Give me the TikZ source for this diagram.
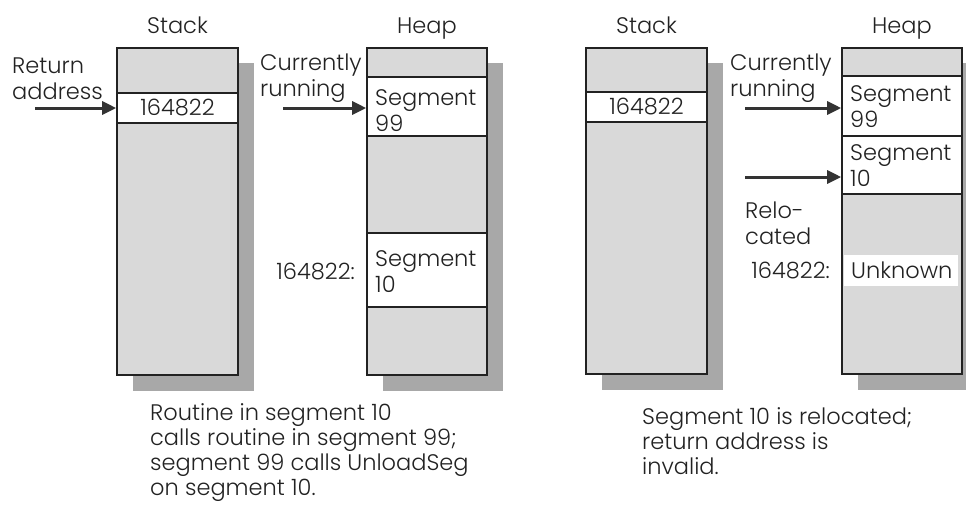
\documentclass[tikz,border=0pt]{standalone}
\usepackage{fontspec}
\setmainfont{Poppins Light}
\usetikzlibrary{arrows.meta,calc}
\definecolor{boxgray}{HTML}{D9D9D9}
\definecolor{shadowgray}{HTML}{A8A8A8}
\definecolor{inkcol}{HTML}{222222}
\definecolor{arrowcol}{HTML}{333333}
\tikzset{
  cell/.style={draw=inkcol, line width=1.6pt, inner sep=0pt, minimum width=#1},
  graycell/.style={cell=#1, fill=boxgray},
  whitecell/.style={cell=#1, fill=white},
  shadowbox/.style={fill=shadowgray},
  lbl/.style={inner sep=0pt, text=inkcol, font=\fontsize{22.5}{26}\selectfont, align=left},
  caption/.style={inner sep=0pt, text=inkcol, font=\fontsize{22.5}{25}\selectfont, align=left},
  ptr/.style={draw=arrowcol, line width=3pt, -{Triangle[length=14pt,width=13pt]}},
}
\begin{document}
\begin{tikzpicture}[x=1pt,y=-1pt]
\useasboundingbox (0,0) rectangle (966,504);
\clip (0,0) rectangle (966,504);

% ---------- left panel ----------
\fill[shadowbox] (133,63) rectangle (254,391);
\fill[shadowbox] (383,63) rectangle (503,391);

\node[graycell=121pt, minimum height=45pt] (ls1) at (177.5,70.5) {};
\node[whitecell=121pt, minimum height=30pt, lbl] (ls2) at (177.5,108) {164822};
\node[graycell=121pt, minimum height=252pt] (ls3) at (177.5,249) {};

\node[graycell=120pt, minimum height=29pt] (lh1) at (427,62.5) {};
\node[whitecell=120pt, minimum height=59pt] (lh2) at (427,106.5) {};
\node[graycell=120pt, minimum height=97pt] (lh3) at (427,184.5) {};
\node[whitecell=120pt, minimum height=74pt] (lh4) at (427,270) {};
\node[graycell=120pt, minimum height=68pt] (lh5) at (427,341) {};

\node[lbl, anchor=base] (lstack) at (177.5,33) {Stack};
\node[lbl, anchor=base] (lheap) at (427,33) {Heap};
\node[lbl, anchor=west] (lret) at (12,78.5) {Return\\address};
\node[lbl, anchor=west] (lcur) at (260,78.5) {Currently\\running};
\node[lbl, anchor=west] (lseg99) at (375,111) {Segment\\99};
\node[lbl, anchor=west] (lseg10) at (375,272) {Segment\\10};
\node[lbl, anchor=east] (laddr) at (355,272) {164822:};

\coordinate (lra) at (35,108);
\coordinate (lca) at (283,108);
\draw[ptr] (lra) -- (lra -| ls2.west);
\draw[ptr] (lca) -- (lca -| lh2.west);

\node[caption, anchor=west] (lcap) at (150,453) {Routine in segment 10\\calls routine in segment 99;\\segment 99 calls UnloadSeg\\on segment 10.};

% ---------- right panel ----------
\fill[shadowbox] (602,63) rectangle (723,390);
\fill[shadowbox] (858,63) rectangle (978,390);

\node[graycell=121pt, minimum height=44pt] (rs1) at (646.5,70) {};
\node[whitecell=121pt, minimum height=30pt, lbl] (rs2) at (646.5,107) {164822};
\node[graycell=121pt, minimum height=252pt] (rs3) at (646.5,248) {};

\node[graycell=120pt, minimum height=28pt] (rh1) at (902,62) {};
\node[whitecell=120pt, minimum height=60pt] (rh2) at (902,106) {};
\node[whitecell=120pt, minimum height=58pt] (rh3) at (902,165) {};
\node[graycell=120pt, minimum height=180pt] (rh4) at (902,284) {};
\fill[white] (843.5,255) rectangle (958,286);

\node[lbl, anchor=base] (rstack) at (646.5,33) {Stack};
\node[lbl, anchor=base] (rheap) at (902,33) {Heap};
\node[lbl, anchor=west] (rcur) at (730,78.5) {Currently\\running};
\node[lbl, anchor=west] (rseg99) at (850,107) {Segment\\99};
\node[lbl, anchor=west] (rseg10) at (850,166) {Segment\\10};
\node[lbl, anchor=west] (rreloc) at (745,223) {Relo-\\cated};
\node[lbl, anchor=east] (raddr) at (830,271) {164822:};
\node[lbl, anchor=west] (runk) at (851,270.5) {Unknown};

\coordinate (rca) at (745,108);
\coordinate (rrl) at (745,177);
\draw[ptr] (rca) -- (rca -| rh2.west);
\draw[ptr] (rrl) -- (rrl -| rh3.west);

\node[caption, anchor=west] (rcap) at (642,441) {Segment 10 is relocated;\\return address is\\invalid.};
\end{tikzpicture}
\end{document}
